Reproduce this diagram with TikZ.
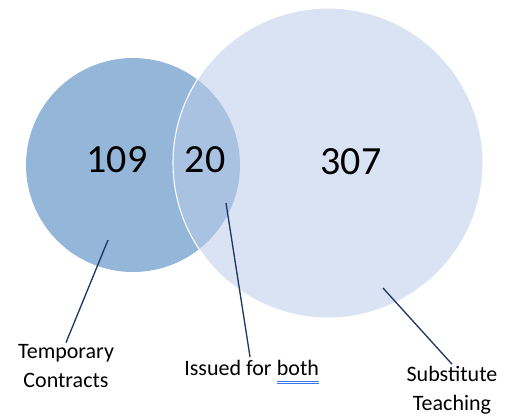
\documentclass[tikz,border=0pt]{standalone}
\usepackage{fontspec}
\setmainfont{Carlito}
\usetikzlibrary{positioning}
\definecolor{tempblue}{RGB}{148,182,217}
\definecolor{subblue}{RGB}{188,204,233}
\definecolor{leadnavy}{RGB}{31,56,100}
\definecolor{spellblue}{RGB}{60,120,235}

\begin{document}
\begin{tikzpicture}[x=0.75pt, y=-0.75pt,
    count/.style={font=\fontsize{30}{36}\selectfont, inner sep=0pt},
    label/.style={font=\fontsize{16.5}{22}\selectfont, align=center, inner sep=1pt},
    leader/.style={draw=leadnavy, line width=1pt}]
    \useasboundingbox (0,0) rectangle (508,415);

    \fill[tempblue] (133,165) circle[radius=80.25pt];
    \fill[subblue, fill opacity=0.55, draw=white, draw opacity=1, line width=0.8pt] (328,163) circle[radius=116.25pt];

    \node[count] (n109) at (117,160) {109};
    \node[count] (n20) at (205,160) {20};
    \node[count] (n307) at (351,162) {307};

    \node[label] (temp) at (66,366) {Temporary\\Contracts};
    \node[label, inner sep=0pt, anchor=base west] (issued) at (184,375) {Issued for};
    \node[label, inner sep=0pt, right=3.6pt of issued.base east, anchor=base west] (both) {both};
    \node[label] (subst) at (452,390) {Substitute\\Teaching};

    \coordinate (p109) at (108,240);
    \coordinate (p20) at (226,203);
    \coordinate (p307) at (383,288);

    \draw[leader] (p109) -- (temp.north);
    \draw[leader] (p20) -- ([yshift=2pt]both.north -| 250,0);
    \draw[leader] (p307) -- (subst.north);

    % double underline under "both"
    \draw[spellblue, line width=0.7pt] ([yshift=-4.5pt]both.base west) -- ([yshift=-4.5pt]both.base east);
    \draw[spellblue, line width=0.7pt] ([yshift=-6.5pt]both.base west) -- ([yshift=-6.5pt]both.base east);
\end{tikzpicture}
\end{document}
